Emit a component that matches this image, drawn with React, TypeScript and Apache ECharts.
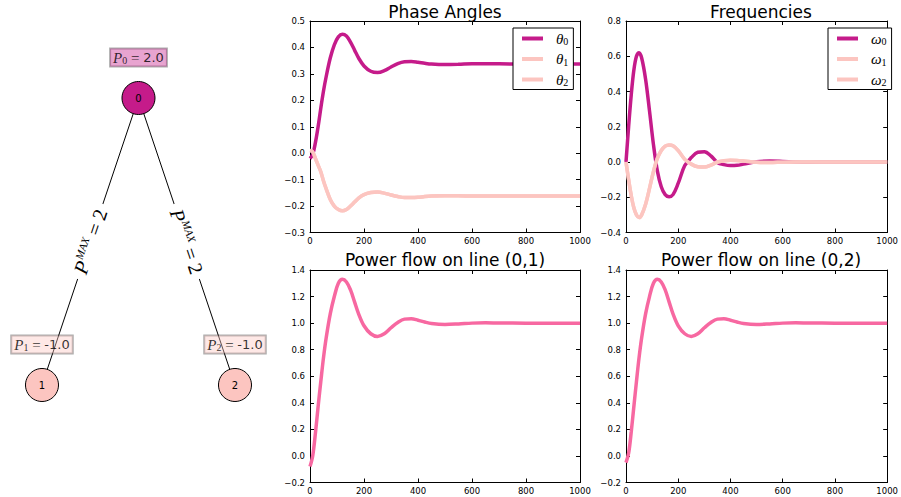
import React, { useEffect, useRef } from "react";
import * as echarts from "echarts";

// ---- time grid (shared by all curves) ----
const tGrid = [0, 10, 20, 30, 40, 50, 60, 75, 90, 105, 120, 135, 150, 165, 180, 200, 225, 250, 275, 300, 325, 350, 375, 400, 425, 450, 500, 550, 600, 650, 700, 800, 900, 1000];

// ---- Phase angles ----
const theta0 = [-0.02, -0.005, 0.04, 0.1, 0.17, 0.235, 0.29, 0.36, 0.41, 0.44, 0.45, 0.443, 0.42, 0.39, 0.36, 0.33, 0.31, 0.305, 0.312, 0.326, 0.339, 0.346, 0.347, 0.344, 0.34, 0.337, 0.335, 0.336, 0.338, 0.338, 0.338, 0.337, 0.337, 0.337];
const theta1 = [0.01, 0.005, -0.02, -0.045, -0.07, -0.105, -0.135, -0.175, -0.2, -0.213, -0.218, -0.213, -0.2, -0.185, -0.17, -0.157, -0.149, -0.147, -0.151, -0.158, -0.164, -0.168, -0.168, -0.167, -0.164, -0.162, -0.161, -0.161, -0.162, -0.162, -0.162, -0.162, -0.162, -0.162];
const theta2 = [0.01, 0.005, -0.02, -0.045, -0.07, -0.105, -0.135, -0.175, -0.2, -0.213, -0.218, -0.213, -0.2, -0.185, -0.17, -0.157, -0.149, -0.147, -0.151, -0.158, -0.164, -0.168, -0.168, -0.167, -0.164, -0.162, -0.161, -0.161, -0.162, -0.162, -0.162, -0.162, -0.162, -0.162];

// ---- Frequencies ----
const omega0 = [0, 0.2, 0.38, 0.52, 0.6, 0.62, 0.59, 0.47, 0.29, 0.1, -0.05, -0.14, -0.185, -0.197, -0.185, -0.12, -0.02, 0.025, 0.055, 0.058, 0.035, -0.003, -0.015, -0.02, -0.019, -0.012, 0.002, 0.005, 0.003, 0, -0.001, 0, 0, 0];
const omega1 = [0, -0.1, -0.19, -0.26, -0.3, -0.315, -0.3, -0.24, -0.15, -0.055, 0.02, 0.065, 0.09, 0.097, 0.092, 0.065, 0.015, -0.012, -0.027, -0.029, -0.018, 0, 0.007, 0.01, 0.009, 0.006, -0.001, -0.003, -0.001, 0, 0, 0, 0, 0];
const omega2 = [0, -0.1, -0.19, -0.26, -0.3, -0.315, -0.3, -0.24, -0.15, -0.055, 0.02, 0.065, 0.09, 0.097, 0.092, 0.065, 0.015, -0.012, -0.027, -0.029, -0.018, 0, 0.007, 0.01, 0.009, 0.006, -0.001, -0.003, -0.001, 0, 0, 0, 0, 0];

// ---- Power flows ----
const flow01 = [-0.08, 0.0, 0.17, 0.37, 0.56, 0.74, 0.89, 1.07, 1.2, 1.3, 1.33, 1.31, 1.25, 1.16, 1.07, 0.98, 0.92, 0.9, 0.92, 0.965, 1.005, 1.03, 1.033, 1.022, 1.008, 0.997, 0.99, 0.994, 1.0, 1.002, 1.001, 1.0, 1.0, 1.0];
const flow02 = [-0.05, 0.02, 0.18, 0.37, 0.56, 0.74, 0.89, 1.07, 1.2, 1.3, 1.33, 1.31, 1.25, 1.16, 1.07, 0.98, 0.92, 0.9, 0.92, 0.965, 1.005, 1.03, 1.033, 1.022, 1.008, 0.997, 0.99, 0.994, 1.0, 1.002, 1.001, 1.0, 1.0, 1.0];

// ---- panel titles and axis ranges ----
const panelTitles = ["Phase Angles", "Frequencies", "Power flow on line (0,1)", "Power flow on line (0,2)"];
const yMins = [-0.3, -0.4, -0.2, -0.2];
const yMaxs = [0.5, 0.8, 1.4, 1.4];
const yIntervals = [0.1, 0.2, 0.2, 0.2];
const xMin = 0, xMax = 1000, xInterval = 200;

// ---- network ----
const nodeNames = ["0", "1", "2"];
const nodeX = [0, -1, 1];
const nodeY = [1, 0, 0];
const nodePower = ["2.0", "-1.0", "-1.0"];
const edges: [string, string][] = [["0", "1"], ["0", "2"]];
const edgePMax = [2, 2];

const MAGENTA = "#c51b8a";
const LIGHT = "#fcc5c0";
const PINK = "#f768a1";
const nodeColors = [MAGENTA, LIGHT, LIGHT];
const nodeBoxColors = ["rgba(197,27,138,0.5)", "rgba(252,197,192,0.5)", "rgba(252,197,192,0.5)"];

const gridRects = [
  { left: 310, top: 21, width: 270, height: 211.5 },
  { left: 626, top: 21, width: 270, height: 211.5 },
  { left: 310, top: 270, width: 270, height: 212.5 },
  { left: 626, top: 270, width: 270, height: 212.5 },
];
const titleCenters = [[445, 11.5], [761, 11.5], [445, 260], [761, 260]];

const zip = (ys: number[]) => tGrid.map((t, i) => [t, ys[i]]);
const fmtY = (v: number) => v.toFixed(1).replace("-", "\u2212");

export default function App() {
  const ref = useRef<HTMLDivElement>(null);
  useEffect(() => {
    if (!ref.current) return;
    const chart = echarts.init(ref.current, undefined, { renderer: "svg" });

    const xAxes: any[] = [];
    const yAxes: any[] = [];
    const axisLine = { show: true, onZero: false, lineStyle: { color: "#000", width: 1 } };
    const tick = { show: true, inside: true, length: 4, lineStyle: { color: "#000", width: 1 } };
    for (let i = 0; i < 4; i++) {
      xAxes.push({
        type: "value", gridIndex: i, position: "bottom", min: xMin, max: xMax, interval: xInterval,
        axisLine, axisTick: tick, splitLine: { show: false },
        axisLabel: { show: true, fontSize: 8.5, color: "#000", fontFamily: "DejaVu Sans", margin: 4, formatter: (v: number) => String(v) },
      });
      xAxes.push({
        type: "value", gridIndex: i, position: "top", min: xMin, max: xMax, interval: xInterval,
        axisLine, axisTick: tick, splitLine: { show: false }, axisLabel: { show: false },
      });
      yAxes.push({
        type: "value", gridIndex: i, position: "left", min: yMins[i], max: yMaxs[i], interval: yIntervals[i],
        axisLine, axisTick: tick, splitLine: { show: false },
        axisLabel: { show: true, fontSize: 8.5, color: "#000", fontFamily: "DejaVu Sans", margin: 5, formatter: fmtY },
      });
      yAxes.push({
        type: "value", gridIndex: i, position: "right", min: yMins[i], max: yMaxs[i], interval: yIntervals[i],
        axisLine, axisTick: tick, splitLine: { show: false }, axisLabel: { show: false },
      });
    }
    // hidden network grid
    xAxes.push({ type: "value", gridIndex: 4, min: -1, max: 1, show: false });
    yAxes.push({ type: "value", gridIndex: 4, min: 0, max: 1, show: false });

    const lineSeries = (name: string, ys: number[], color: string, gi: number) => ({
      type: "line", name, data: zip(ys), xAxisIndex: 2 * gi, yAxisIndex: 2 * gi,
      showSymbol: false, symbol: "none", smooth: 0.35,
      lineStyle: { color, width: 3.5 }, itemStyle: { color },
      emphasis: { disabled: true }, z: 3,
    });

    const legendRich = {
      g: { fontFamily: "Liberation Serif", fontStyle: "italic", fontSize: 15, color: "#000" },
      s: { fontFamily: "Liberation Serif", fontSize: 10, color: "#000", padding: [6, 0, 0, 0] },
    };
    const legendBase = {
      orient: "vertical", top: 28, icon: "rect", itemWidth: 21, itemHeight: 4, itemGap: 5,
      padding: [3, 5, 2, 9], borderColor: "#000", borderWidth: 1, borderRadius: 0, backgroundColor: "#fff",
      formatter: (name: string) => `{g|${name[0]}}{s|${name.slice(1)}}`,
      textStyle: { rich: legendRich, padding: [0, 0, 0, 8] },
      selectedMode: false, z: 10,
    };

    const option: any = {
      animation: false,
      backgroundColor: "#fff",
      grid: [...gridRects.map((g) => ({ ...g, containLabel: false })), { left: 42, top: 98, width: 193, height: 287 }],
      xAxis: xAxes,
      yAxis: yAxes,
      legend: [
        { ...legendBase, left: 513, data: ["θ0", "θ1", "θ2"] },
        { ...legendBase, left: 828, data: ["ω0", "ω1", "ω2"] },
      ],
      graphic: panelTitles.map((t, i) => ({
        type: "text", x: titleCenters[i][0], y: titleCenters[i][1], silent: true,
        style: { text: t, align: "center", verticalAlign: "middle", fontSize: 17, fontFamily: "DejaVu Sans", fill: "#000" },
      })),
      series: [
        lineSeries("θ0", theta0, MAGENTA, 0),
        lineSeries("θ1", theta1, LIGHT, 0),
        lineSeries("θ2", theta2, LIGHT, 0),
        lineSeries("ω0", omega0, MAGENTA, 1),
        lineSeries("ω1", omega1, LIGHT, 1),
        lineSeries("ω2", omega2, LIGHT, 1),
        lineSeries("flow01", flow01, PINK, 2),
        lineSeries("flow02", flow02, PINK, 3),
        {
          type: "graph", coordinateSystem: "cartesian2d", xAxisIndex: 8, yAxisIndex: 8,
          layout: "none", roam: false, symbolSize: 33,
          data: nodeNames.map((n, i) => ({ name: n, value: [nodeX[i], nodeY[i]], itemStyle: { color: nodeColors[i] } })),
          links: edges.map(([s, t], i) => ({ source: s, target: t, value: edgePMax[i] })),
          edgeSymbol: ["none", "none"],
          lineStyle: { color: "#000", width: 1, opacity: 1, curveness: 0 },
          itemStyle: { borderColor: "#000", borderWidth: 1 },
          label: { show: true, position: "inside", fontSize: 10, color: "#000", fontFamily: "DejaVu Sans", formatter: "{b}" },
          edgeLabel: {
            show: true, position: "middle", distance: 0, verticalAlign: "middle",
            backgroundColor: "#fff", padding: [0, 6],
            formatter: (p: any) => `{p|P}{sup|MAX}{eq| = ${p.value}}`,
            rich: {
              p: { fontFamily: "Liberation Serif", fontStyle: "italic", fontSize: 20, color: "#000" },
              sup: { fontFamily: "Liberation Serif", fontStyle: "italic", fontSize: 11, color: "#000", padding: [0, 0, 11, 1] },
              eq: { fontFamily: "Liberation Serif", fontSize: 20, color: "#000" },
            },
          },
          emphasis: { disabled: true }, z: 4,
        },
        {
          type: "scatter", xAxisIndex: 8, yAxisIndex: 8, symbolSize: 0, z: 5,
          data: nodeNames.map((n, i) => ({
            value: [nodeX[i], nodeY[i]],
            label: { backgroundColor: nodeBoxColors[i] },
          })),
          label: {
            show: true, position: "top", distance: 31.5,
            borderColor: "rgba(0,0,0,0.4)", borderWidth: 1, padding: [1, 3, 1, 3],
            formatter: (p: any) => `{p|P}{sub|${nodeNames[p.dataIndex]}}{eq| = }{n|${nodePower[p.dataIndex]}}`,
            rich: {
              p: { fontFamily: "Liberation Serif", fontStyle: "italic", fontSize: 15, color: "#000" },
              sub: { fontFamily: "Liberation Serif", fontSize: 10, color: "#000", padding: [6, 0, 0, 0] },
              eq: { fontFamily: "Liberation Serif", fontSize: 15, color: "#000" },
              n: { fontFamily: "DejaVu Sans", fontSize: 13, color: "#000" },
            },
          },
          emphasis: { disabled: true },
        },
      ],
    };
    chart.setOption(option);
    return () => chart.dispose();
  }, []);
  return <div ref={ref} style={{ position: "fixed", left: 0, top: 0, width: 901, height: 497 }} />;
}
